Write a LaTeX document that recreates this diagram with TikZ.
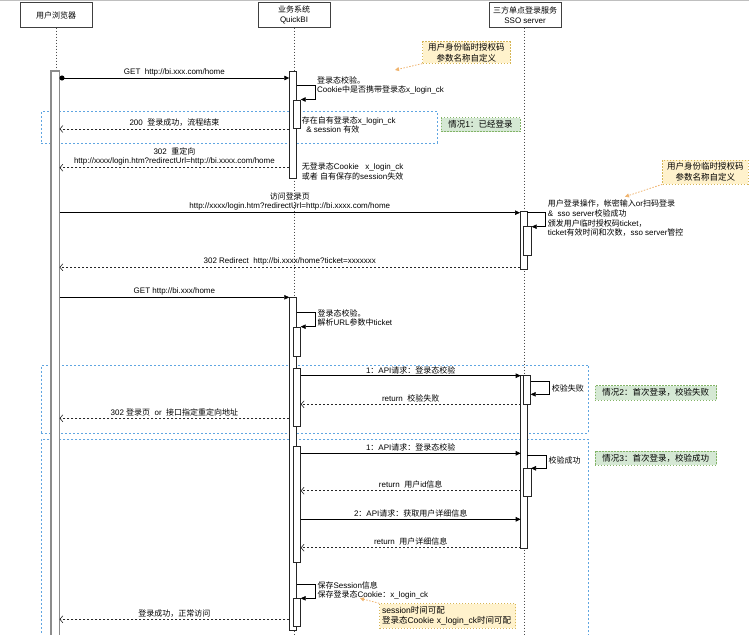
\documentclass[tikz,border=0pt]{standalone}
\usepackage{fontspec}
\setmainfont{Liberation Sans}
\newfontfamily\cjkfont{Noto Sans CJK SC}
\newfontfamily\latfont{Liberation Sans}
\usetikzlibrary{arrows.meta}
\XeTeXinterchartokenstate=1
\newXeTeXintercharclass\CJKcls
\newcount\cjkcnt
\def\setcjkrange#1#2{\cjkcnt=#1\relax\loop\XeTeXcharclass\cjkcnt=\CJKcls\relax\ifnum\cjkcnt<#2\relax\advance\cjkcnt by 1\relax\repeat}
\setcjkrange{"3000}{"303F}
\setcjkrange{"4E00}{"9FFF}
\setcjkrange{"FF00}{"FFEF}
\XeTeXinterchartoks 0 \CJKcls = {\cjkfont}
\XeTeXinterchartoks 4095 \CJKcls = {\cjkfont}
\XeTeXinterchartoks \CJKcls 0 = {\latfont}
\XeTeXinterchartoks \CJKcls 4095 = {\latfont}
\definecolor{grpblue}{RGB}{95,165,225}
\definecolor{taggreen}{RGB}{213,232,212}
\definecolor{tagborder}{RGB}{130,179,102}
\definecolor{notefill}{RGB}{255,242,204}
\definecolor{noteborder}{RGB}{214,182,86}
\definecolor{notelink}{RGB}{240,180,110}
\tikzset{
  lbl/.style={inner sep=0pt, font=\fontsize{8}{9.5}\selectfont},
  hdr/.style={draw=black!75, fill=white, minimum width=72pt, minimum height=25pt, align=center, inner sep=0pt, font=\fontsize{8}{10.5}\selectfont},
  life/.style={draw=black!70, dash pattern=on 1.5pt off 1.5pt, line width=0.6pt},
  bar/.style={draw=black!85, fill=white, line width=0.6pt, inner sep=0pt, outer sep=0pt, anchor=north west},
  bbar/.style={draw=black!45, fill=white, line width=1.3pt, inner sep=0pt, outer sep=0pt, anchor=north west},
  msg/.style={draw=black, line width=0.6pt, -{Triangle[length=5pt,width=4.5pt]}},
  ret/.style={draw=black!85, line width=0.6pt, dash pattern=on 2pt off 2pt, -{Straight Barb[length=3pt,width=7pt]}},
  grp/.style={draw=grpblue, dash pattern=on 2pt off 2pt, line width=0.75pt, inner sep=0pt, anchor=north west},
  tag/.style={draw=tagborder, fill=taggreen, dash pattern=on 1.5pt off 1.5pt, line width=0.6pt, inner sep=0pt, font=\fontsize{8.5}{10}\selectfont},
  note/.style={draw=noteborder, fill=notefill, dash pattern=on 1.5pt off 1.5pt, line width=0.6pt, inner sep=0pt, align=center, font=\fontsize{8.5}{11}\selectfont},
  notearrow/.style={draw=notelink, dash pattern=on 1.5pt off 1.5pt, line width=0.8pt, -{Triangle[length=4pt,width=4pt]}}
}
\begin{document}
\begin{tikzpicture}[x=1pt,y=-1pt]
\useasboundingbox (0,0) rectangle (749,634);
\fill[white] (0,0) rectangle (749,634);
\draw[black!25, line width=1pt] (0,0.5) -- (749,0.5);

% headers
\node[hdr] (hB) at (56,15) {用户浏览器};
\node[hdr] (hQ) at (294,15) {业务系统\\QuickBI};
\node[hdr] (hS) at (525,15) {三方单点登录服务\\SSO server};

% lifelines
\coordinate (eB) at (56,640);
\coordinate (eQ) at (294,640);
\coordinate (eS) at (524.5,640);
\draw[life] (hB.south) -- (eB);
\draw[life] (hQ.south) -- (eQ);
\draw[life] (hS.south -| eS) -- (eS);

% group frames
\node[grp, minimum width=396pt, minimum height=31.5pt] (g1) at (41,111) {};
\node[grp, minimum width=547pt, minimum height=68.2pt] (g2) at (41,364.5) {};
\node[grp, minimum width=547pt, minimum height=210pt] (g3) at (41,439) {};

% case tags
\node[tag, minimum width=79pt, minimum height=14pt] (t1) at (480.5,124.7) {情况1：已经登录};
\node[tag, minimum width=121.7pt, minimum height=14.3pt] (t2) at (655.8,392.8) {情况2：首次登录，校验失败};
\node[tag, minimum width=121.7pt, minimum height=14.3pt] (t3) at (655.8,458) {情况3：首次登录，校验成功};

% activation bars
\node[bbar, minimum width=8.5pt, minimum height=572pt] (bB) at (51,71) {};
\node[bar, minimum width=7.4pt, minimum height=107pt] (qA) at (289.3,71) {};
\node[bar, minimum width=7.4pt, minimum height=28pt] (qA2) at (293.3,100) {};
\node[bar, minimum width=7.3pt, minimum height=57.6pt] (sA) at (520,211.7) {};
\node[bar, minimum width=8.4pt, minimum height=29pt] (sA2) at (523.3,226) {};
\node[bar, minimum width=7.4pt, minimum height=333pt] (qB) at (289.3,297) {};
\node[bar, minimum width=7.4pt, minimum height=29pt] (qB2) at (293.3,327) {};
\node[bar, minimum width=7.4pt, minimum height=57.7pt] (qC) at (293.3,368.3) {};
\node[bar, minimum width=6.6pt, minimum height=172.6pt] (sB) at (520.7,375.7) {};
\node[bar, minimum width=7.4pt, minimum height=28.6pt] (sB2) at (523.3,375.7) {};
\node[bar, minimum width=7.4pt, minimum height=115.3pt] (qD) at (293.3,446.7) {};
\node[bar, minimum width=7.7pt, minimum height=28.4pt] (sC2) at (523.3,468.3) {};
\node[bar, minimum width=7.4pt, minimum height=28.4pt] (qE) at (293.3,598.3) {};

% notes
\node[note, minimum width=87.3pt, minimum height=21.6pt] (n1) at (466.3,52.5) {用户身份临时授权码\\参数名称自定义};
\node[note, minimum width=85.3pt, minimum height=24pt] (n2) at (705.3,172) {用户身份临时授权码\\参数名称自定义};
\node[note, anchor=north west, text width=131pt, align=left, inner xsep=2.5pt, inner ysep=3pt, font=\fontsize{8.5}{10}\selectfont] (n3) at (379.3,603.3) {session时间可配\\登录态Cookie x\_login\_ck时间可配};
\coordinate (n1t) at (395,70);
\coordinate (n2t) at (625,196.7);
\coordinate (n3t) at (360,598.3);
\draw[notearrow] (n1.south west) -- (n1t);
\draw[notearrow] (n2.south west) -- (n2t);
\draw[notearrow] (n3.north west) -- (n3t);

% messages
\draw[msg, {Circle[length=5pt]}-{Triangle[length=5pt,width=4.5pt]}] (bB.east |- 0,78) -- node[lbl, above=1.5pt] (m1) {GET\ \ http://bi.xxx.com/home} (qA.west |- 0,78);
\draw[ret] (qA.west |- 0,129) -- node[lbl, above=2pt] (m2) {200\ \ 登录成功，流程结束} (bB.east |- 0,129);
\draw[ret] (qA.west |- 0,167.7) -- node[lbl, above=2pt, align=center] (m3) {302\ \ 重定向\\http://xxxx/login.htm?redirectUrl=http://bi.xxxx.com/home} (bB.east |- 0,167.7);
\draw[msg] (bB.east |- 0,212.7) -- node[lbl, above=2pt, align=center] (m4) {访问登录页\\http://xxxx/login.htm?redirectUrl=http://bi.xxxx.com/home} (sA.west |- 0,212.7);
\draw[ret] (sA.west |- 0,267.3) -- node[lbl, above=2pt] (m5) {302 Redirect\ \ http://bi.xxxx/home?ticket=xxxxxxx} (bB.east |- 0,267.3);
\draw[msg] (bB.east |- 0,297.3) -- node[lbl, above=1.5pt] (m6) {GET http://bi.xxx/home} (qB.west |- 0,297.3);
\draw[msg] (qC.east |- 0,375.7) -- node[lbl, above=1.5pt] (m7) {1：API请求：登录态校验} (sB.west |- 0,375.7);
\draw[ret] (sB.west |- 0,404.3) -- node[lbl, above=2pt] (m8) {return\ \ 校验失败} (qC.east |- 0,404.3);
\draw[ret] (qB.west |- 0,418.3) -- node[lbl, above=2pt] (m9) {302 登录页\ \ or\ \ 接口指定重定向地址} (bB.east |- 0,418.3);
\draw[msg] (qD.east |- 0,453.3) -- node[lbl, above=1.5pt] (m10) {1：API请求：登录态校验} (sB.west |- 0,453.3);
\draw[ret] (sB.west |- 0,490.7) -- node[lbl, above=2pt] (m11) {return\ \ 用户id信息} (qD.east |- 0,490.7);
\draw[msg] (qD.east |- 0,519.3) -- node[lbl, above=1.5pt] (m12) {2：API请求：获取用户详细信息} (sB.west |- 0,519.3);
\draw[ret] (sB.west |- 0,547.7) -- node[lbl, above=2pt] (m13) {return\ \ 用户详细信息} (qD.east |- 0,547.7);
\draw[ret] (qB.west |- 0,619.3) -- node[lbl, above=2pt] (m14) {登录成功，正常访问} (bB.east |- 0,619.3);

% self calls
\draw[msg] (qA.east |- 0,85) -- (315,85) |- (qA2.east |- 0,99.5);
\draw[msg] (sA.east |- 0,212.7) -- (545.7,212.7) |- (sA2.east |- 0,226.7);
\draw[msg] (qB.east |- 0,312.3) -- (315,312.3) |- (qB2.east |- 0,326.7);
\draw[msg] (sB2.east |- 0,381.7) -- (549.3,381.7) |- (sB2.east |- 0,394.3);
\draw[msg] (sB.east |- 0,455) -- (546,455) |- (sC2.east |- 0,468.3);
\draw[msg] (qB.east |- 0,584) -- (315,584) |- (qE.east |- 0,598.3);

% side texts
\node[lbl, anchor=west, align=left] (s1) at (317,85.3) {登录态校验。\\Cookie中是否携带登录态x\_login\_ck};
\node[lbl, anchor=west, align=left] (s2) at (301.7,125) {存在自有登录态x\_login\_ck\\\ \ \& session 有效};
\node[lbl, anchor=west, align=left] (s3) at (301.7,171.7) {无登录态Cookie\ \ \ x\_login\_ck\\或者 自有保存的session失效};
\node[lbl, anchor=west, align=left, font=\fontsize{8}{9.6}\selectfont] (s4) at (547.7,218.4) {用户登录操作，帐密输入or扫码登录\\\&\ \ sso server校验成功\\颁发用户临时授权码ticket，\\ticket有效时间和次数，sso server管控};
\node[lbl, anchor=west, align=left] (s5) at (317.3,318) {登录态校验。\\解析URL参数中ticket};
\node[lbl, anchor=west] (s6) at (551.7,388.5) {校验失败};
\node[lbl, anchor=west] (s7) at (548.3,460.3) {校验成功};
\node[lbl, anchor=west, align=left] (s8) at (317.3,590.3) {保存Session信息\\保存登录态Cookie：x\_login\_ck};
\end{tikzpicture}
\end{document}
